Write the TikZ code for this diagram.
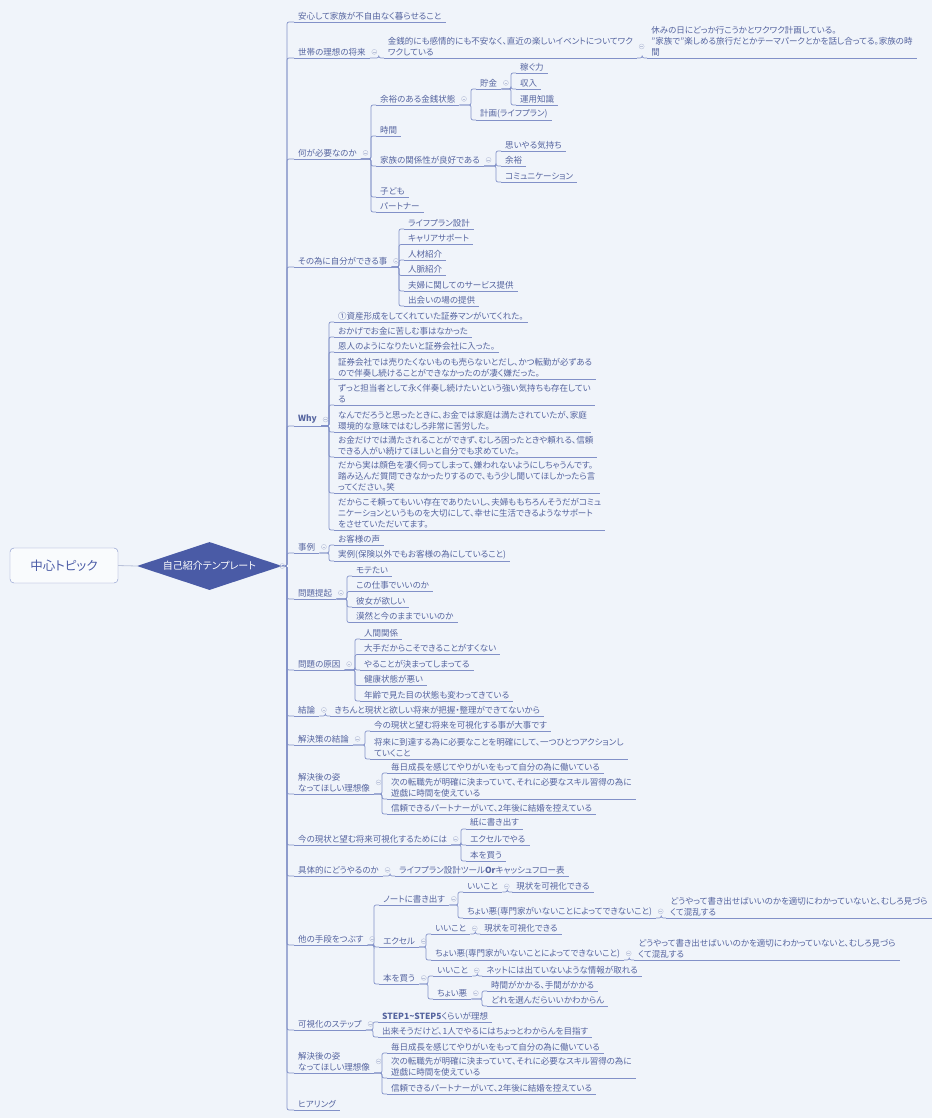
\documentclass[tikz,border=0pt]{standalone}
\usepackage{fontspec}
\setmainfont{Noto Sans CJK JP}[RawFeature=+palt]
\usetikzlibrary{shapes.geometric}
\definecolor{bgc}{HTML}{F0F4FA}
\definecolor{ink}{HTML}{55649F}
\definecolor{linec}{HTML}{8291C8}
\definecolor{foldc}{HTML}{BAC2DA}
\definecolor{hubc}{HTML}{4A5BA6}
\tikzset{
	link/.style={draw=linec,line width=0.7pt,rounded corners=2pt},
	topic/.style={anchor=south west,inner xsep=4pt,inner ysep=2pt,text=ink,align=left,
		font=\fontsize{8.5}{11}\selectfont,
		append after command={(\tikzlastnode.south west) edge[link] (\tikzlastnode.south east)}},
	fold/.style={circle,draw=foldc,line width=0.4pt,minimum size=5pt,inner sep=0pt,
		path picture={\draw[foldc,line width=0.4pt] ([xshift=-1.4pt]path picture bounding box.center) -- ([xshift=1.4pt]path picture bounding box.center);}},
}
\begin{document}
\begin{tikzpicture}[x=1pt,y=-1pt]
	\useasboundingbox (0,0) rectangle (932,1118);
	\fill[bgc] (0,0) rectangle (932,1118);
	% centre
	\node[draw=linec,fill=white!60!bgc,rounded corners=4pt,minimum width=108pt,minimum height=35pt,text=hubc,font=\fontsize{12.5}{14}\selectfont] (root) at (64,565.5) {中心トピック};
	\node[diamond,aspect=3,fill=hubc,text=white,inner sep=0pt,minimum width=145pt,minimum height=48pt,font=\fontsize{10}{12}\selectfont] (hub) at (209.5,566) {自己紹介テンプレート};
	\draw[draw=foldc,line width=0.8pt] (root.east) -- (hub.west);
	% first level
	\node[topic] (t1) at (294,22) {安心して家族が不自由なく暮らせること};
	\node[topic] (t2) at (294,58) {世帯の理想の将来};
	\node[topic] (t2a) at ([xshift=14pt]t2.south east) {金銭的にも感情的にも不安なく、直近の楽しいイベントについてワク\\ワクしている};
	\node[topic] (t2a1) at ([xshift=10pt]t2a.south east) {休みの日にどっか行こうかとワクワク計画している。\\”家族で”楽しめる旅行だとかテーマパークとかを話し合ってる。家族の時\\間};
	\node[topic] (t3) at (294,159) {何が必要なのか};
	\node[topic] (t3a) at (376,105) {余裕のある金銭状態};
	\node[topic] (t3a1) at (476,89) {貯金};
	\node[topic] (t3a1a) at (516,73) {稼ぐ力};
	\node[topic] (t3a1b) at (516,89) {収入};
	\node[topic] (t3a1c) at (516,105) {運用知識};
	\node[topic] (t3a2) at (476,120) {計画(ライフプラン)};
	\node[topic] (t3b) at (376,136) {時間};
	\node[topic] (t3c) at (376,166) {家族の関係性が良好である};
	\node[topic] (t3c1) at (501,151) {思いやる気持ち};
	\node[topic] (t3c2) at (501,166) {余裕};
	\node[topic] (t3c3) at (501,182) {コミュニケーション};
	\node[topic] (t3d) at (376,197) {子ども};
	\node[topic] (t3e) at (376,212) {パートナー};
	\node[topic] (t4) at (294,267) {その為に自分ができる事};
	\node[topic] (t4a) at (404,229) {ライフプラン設計};
	\node[topic] (t4b) at (404,244.5) {キャリアサポート};
	\node[topic] (t4c) at (404,260) {人材紹介};
	\node[topic] (t4d) at (404,275.5) {人脈紹介};
	\node[topic] (t4e) at (404,291) {夫婦に関してのサービス提供};
	\node[topic] (t4f) at (404,306) {出会いの場の提供};
	\node[topic] (t5) at (294,426) {\textbf{Why}};
	\node[topic] (t5a) at (334,322) {①資産形成をしてくれていた証券マンがいてくれた。};
	\node[topic] (t5b) at (334,337) {おかげでお金に苦しむ事はなかった};
	\node[topic] (t5c) at (334,352) {恩人のようになりたいと証券会社に入った。};
	\node[topic] (t5d) at (334,379) {証券会社では売りたくないものも売らないとだし、かつ転勤が必ずある\\ので伴奏し続けることができなかったのが凄く嫌だった。};
	\node[topic] (t5e) at (334,405) {ずっと担当者として永く伴奏し続けたいという強い気持ちも存在してい\\る};
	\node[topic] (t5f) at (334,432) {なんでだろうと思ったときに、お金では家庭は満たされていたが、家庭\\環境的な意味ではむしろ非常に苦労した。};
	\node[topic] (t5g) at (334,457) {お金だけでは満たされることができず、むしろ困ったときや頼れる、信頼\\できる人がい続けてほしいと自分でも求めていた。};
	\node[topic] (t5h) at (334,493) {だから実は顔色を凄く伺ってしまって、嫌われないようにしちゃうんです。\\踏み込んだ質問できなかったりするので、もう少し聞いてほしかったら言\\ってください。笑};
	\node[topic] (t5i) at (334,530) {だからこそ頼ってもいい存在でありたいし、夫婦ももちろんそうだがコミュ\\ニケーションというものを大切にして、幸せに生活できるようなサポート\\をさせていただいてます。};
	\node[topic] (t6) at (294,553) {事例};
	\node[topic] (t6a) at (334,545) {お客様の声};
	\node[topic] (t6b) at (334,561) {実例(保険以外でもお客様の為にしていること)};
	\node[topic] (t7) at (294,599) {問題提起};
	\node[topic] (t7a) at (352,576) {モテたい};
	\node[topic] (t7b) at (352,591.5) {この仕事でいいのか};
	\node[topic] (t7c) at (352,607) {彼女が欲しい};
	\node[topic] (t7d) at (352,622.5) {漠然と今のままでいいのか};
	\node[topic] (t8) at (294,670) {問題の原因};
	\node[topic] (t8a) at (360,639) {人間関係};
	\node[topic] (t8b) at (360,654.5) {大手だからこそできることがすくない};
	\node[topic] (t8c) at (360,670) {やることが決まってしまってる};
	\node[topic] (t8d) at (360,685.5) {健康状態が悪い};
	\node[topic] (t8e) at (360,701) {年齢で見た目の状態も変わってきている};
	\node[topic] (t9) at (294,716) {結論};
	\node[topic] (t9a) at ([xshift=11pt]t9.south east) {きちんと現状と欲しい将来が把握・整理ができてないから};
	\node[topic] (t10) at (294,745) {解決策の結論};
	\node[topic] (t10a) at (370,731) {今の現状と望む将来を可視化する事が大事です};
	\node[topic] (t10b) at (370,759) {将来に到達する為に必要なことを明確にして、一つひとつアクションし\\ていくこと};
	\node[topic] (t11) at (294,794) {解決後の姿\\なってほしい理想像};
	\node[topic] (t11a) at (387,773) {毎日成長を感じてやりがいをもって自分の為に働いている};
	\node[topic] (t11b) at (387,799) {次の転職先が明確に決まっていて、それに必要なスキル習得の為に\\遊戯に時間を使えている};
	\node[topic] (t11c) at (387,814) {信頼できるパートナーがいて、2年後に結婚を控えている};
	\node[topic] (t12) at (294,845) {今の現状と望む将来可視化するためには};
	\node[topic] (t12a) at (466,829) {紙に書き出す};
	\node[topic] (t12b) at (466,845) {エクセルでやる};
	\node[topic] (t12c) at (466,861) {本を買う};
	\node[topic] (t13) at (294,876) {具体的にどうやるのか};
	\node[topic] (t13a) at ([xshift=12pt]t13.south east) {ライフプラン設計ツール\textbf{Or}キャッシュフロー表};
	\node[topic] (t14) at (294,945) {他の手段をつぶす};
	\node[topic] (t14a) at (379,905) {ノートに書き出す};
	\node[topic] (t14a1) at (463,892) {いいこと};
	\node[topic] (t14a1a) at ([xshift=10pt]t14a1.south east) {現状を可視化できる};
	\node[topic] (t14a2) at (463,918) {ちょい悪(専門家がいないことによってできないこと)};
	\node[topic] (t14a2a) at ([xshift=10pt]t14a2.south east) {どうやって書き出せばいいのかを適切にわかっていないと、むしろ見づら\\くて混乱する};
	\node[topic] (t14b) at (379,947) {エクセル};
	\node[topic] (t14b1) at (431,934) {いいこと};
	\node[topic] (t14b1a) at ([xshift=10pt]t14b1.south east) {現状を可視化できる};
	\node[topic] (t14b2) at (431,960) {ちょい悪(専門家がいないことによってできないこと)};
	\node[topic] (t14b2a) at ([xshift=10pt]t14b2.south east) {どうやって書き出せばいいのかを適切にわかっていないと、むしろ見づら\\くて混乱する};
	\node[topic] (t14c) at (379,984) {本を買う};
	\node[topic] (t14c1) at (433,976) {いいこと};
	\node[topic] (t14c1a) at ([xshift=10pt]t14c1.south east) {ネットには出ていないような情報が取れる};
	\node[topic] (t14c2) at (433,999) {ちょい悪};
	\node[topic] (t14c2a) at (487,991) {時間がかかる、手間がかかる};
	\node[topic] (t14c2b) at (487,1006) {どれを選んだらいいかわからん};
	\node[topic] (t15) at (294,1030) {可視化のステップ};
	\node[topic] (t15a) at (378,1022) {\textbf{STEP1\textasciitilde STEP5}くらいが理想};
	\node[topic] (t15b) at (378,1037) {出来そうだけど、1人でやるにはちょっとわからんを目指す};
	\node[topic] (t16) at (294,1073) {解決後の姿\\なってほしい理想像};
	\node[topic] (t16a) at (387,1053) {毎日成長を感じてやりがいをもって自分の為に働いている};
	\node[topic] (t16b) at (387,1078) {次の転職先が明確に決まっていて、それに必要なスキル習得の為に\\遊戯に時間を使えている};
	\node[topic] (t16c) at (387,1094) {信頼できるパートナーがいて、2年後に結婚を控えている};
	\node[topic] (t17) at (294,1110) {ヒアリング};
	% trunk
	\foreach \ch in {t1,t2,t3,t4,t5,t6,t7,t8,t9,t10,t11,t12,t13,t14,t15,t16,t17}
		\draw[link] (hub.east) -| ([xshift=-7pt]\ch.south west) -- (\ch.south west);
	% branches
	\foreach \pa/\ch in {t2/t2a,t2a/t2a1,t3/t3a,t3/t3b,t3/t3c,t3/t3d,t3/t3e,t3a/t3a1,t3a/t3a2,
		t3a1/t3a1a,t3a1/t3a1b,t3a1/t3a1c,t3c/t3c1,t3c/t3c2,t3c/t3c3,
		t4/t4a,t4/t4b,t4/t4c,t4/t4d,t4/t4e,t4/t4f,
		t5/t5a,t5/t5b,t5/t5c,t5/t5d,t5/t5e,t5/t5f,t5/t5g,t5/t5h,t5/t5i,
		t6/t6a,t6/t6b,t7/t7a,t7/t7b,t7/t7c,t7/t7d,t8/t8a,t8/t8b,t8/t8c,t8/t8d,t8/t8e,
		t9/t9a,t10/t10a,t10/t10b,t11/t11a,t11/t11b,t11/t11c,t12/t12a,t12/t12b,t12/t12c,t13/t13a,
		t14/t14a,t14/t14b,t14/t14c,t14a/t14a1,t14a/t14a2,t14a1/t14a1a,t14a2/t14a2a,
		t14b/t14b1,t14b/t14b2,t14b1/t14b1a,t14b2/t14b2a,t14c/t14c1,t14c/t14c2,t14c1/t14c1a,
		t14c2/t14c2a,t14c2/t14c2b,t15/t15a,t15/t15b,t16/t16a,t16/t16b,t16/t16c}
		\draw[link] (\pa.south east) -| ([xshift=-5pt]\ch.south west) -- (\ch.south west);
	% fold marks
	\node[fold] (hub-f) at (hub.east) {};
	\foreach \nd in {t2,t2a,t3,t3a,t3a1,t3c,t4,t5,t6,t7,t8,t9,t10,t11,t12,t13,t14,t14a,t14a1,t14a2,
		t14b,t14b1,t14b2,t14c,t14c1,t14c2,t15,t16}
		\node[fold] (\nd-f) at ([xshift=4.5pt]\nd.east) {};
\end{tikzpicture}
\end{document}
